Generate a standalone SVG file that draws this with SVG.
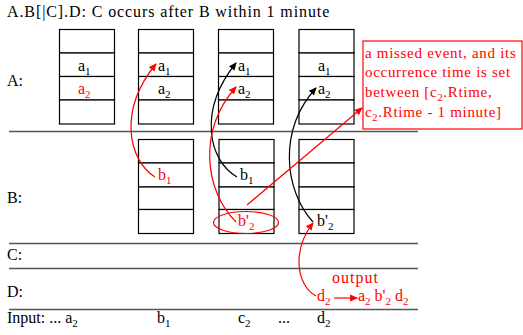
<svg xmlns="http://www.w3.org/2000/svg" width="523" height="335" viewBox="0 0 523 335">
<defs>
<marker id="ab" markerWidth="8" markerHeight="8" refX="7" refY="4" orient="auto" markerUnits="userSpaceOnUse"><path d="M0,0.5 L8,4 L0,7.5 Z" fill="#000"/></marker>
<marker id="ar" markerWidth="8" markerHeight="8" refX="7" refY="4" orient="auto" markerUnits="userSpaceOnUse"><path d="M0,0.5 L8,4 L0,7.5 Z" fill="#f00"/></marker>
</defs>
<style>
text{font-family:'Liberation Serif','DejaVu Serif','Times New Roman',serif;font-size:16px;fill:#000}
.r{fill:#f00}
.s{font-size:11px}
.cell{fill:#fff;stroke:#000;stroke-width:1.2}
.sep{stroke:#555;stroke-width:1.5}
.cb{fill:none;stroke:#000;stroke-width:1.2}
.cr{fill:none;stroke:#f00;stroke-width:1.2}
.bx{font-size:15px;fill:#f00;letter-spacing:0.7px}
</style>
<rect width="523" height="335" fill="#fff"/>
<text x="7" y="17" letter-spacing="0.9">A.B[|C].D: C occurs after B within 1 minute</text>
<g id="separators">
<line class="sep" x1="9" y1="131.5" x2="418" y2="131.5"/>
<line class="sep" x1="9" y1="243.5" x2="418" y2="243.5"/>
<line class="sep" x1="9" y1="268.5" x2="418" y2="268.5"/>
<line class="sep" x1="9" y1="309.5" x2="418" y2="309.5"/>
</g>
<g id="labels">
<text x="7" y="86">A:</text>
<text x="7" y="203">B:</text>
<text x="7" y="260">C:</text>
<text x="7" y="297">D:</text>
<text x="7" y="323">Input: ... a<tspan class="s" dy="4">2</tspan></text>
<text x="157" y="323">b<tspan class="s" dy="4">1</tspan></text>
<text x="238" y="323">c<tspan class="s" dy="4">2</tspan></text>
<text x="278" y="323">...</text>
<text x="317" y="323">d<tspan class="s" dy="4">2</tspan></text>
</g>
<g id="stackA1">
<rect class="cell" x="59.5" y="29.5" width="55" height="23.5"/>
<rect class="cell" x="59.5" y="53" width="55" height="23.5"/>
<rect class="cell" x="59.5" y="76.5" width="55" height="23.5"/>
<rect class="cell" x="59.5" y="100" width="55" height="24"/>
<text x="78" y="71">a<tspan class="s" dy="4">1</tspan></text>
<text x="78" y="94" class="r">a<tspan class="s" dy="4">2</tspan></text>
</g>
<g id="stackA2">
<rect class="cell" x="138.5" y="29.5" width="55" height="23.5"/>
<rect class="cell" x="138.5" y="53" width="55" height="23.5"/>
<rect class="cell" x="138.5" y="76.5" width="55" height="23.5"/>
<rect class="cell" x="138.5" y="100" width="55" height="24"/>
<text x="158" y="71">a<tspan class="s" dy="4">1</tspan></text>
<text x="158" y="94">a<tspan class="s" dy="4">2</tspan></text>
</g>
<g id="stackA3">
<rect class="cell" x="218.5" y="29.5" width="55" height="23.5"/>
<rect class="cell" x="218.5" y="53" width="55" height="23.5"/>
<rect class="cell" x="218.5" y="76.5" width="55" height="23.5"/>
<rect class="cell" x="218.5" y="100" width="55" height="24"/>
<text x="238" y="71">a<tspan class="s" dy="4">1</tspan></text>
<text x="238" y="94">a<tspan class="s" dy="4">2</tspan></text>
</g>
<g id="stackA4">
<rect class="cell" x="299" y="29.5" width="55" height="23.5"/>
<rect class="cell" x="299" y="53" width="55" height="23.5"/>
<rect class="cell" x="299" y="76.5" width="55" height="23.5"/>
<rect class="cell" x="299" y="100" width="55" height="24"/>
<text x="318" y="71">a<tspan class="s" dy="4">1</tspan></text>
<text x="318" y="94">a<tspan class="s" dy="4">2</tspan></text>
</g>
<g id="stackB2">
<rect class="cell" x="138.5" y="139.5" width="55" height="23.5"/>
<rect class="cell" x="138.5" y="163" width="55" height="24"/>
<rect class="cell" x="138.5" y="187" width="55" height="22.5"/>
<rect class="cell" x="138.5" y="209.5" width="55" height="24"/>
<text x="158" y="180" class="r">b<tspan class="s" dy="4">1</tspan></text>
</g>
<g id="stackB3">
<rect class="cell" x="219" y="139.5" width="55" height="23.5"/>
<rect class="cell" x="219" y="163" width="55" height="24"/>
<rect class="cell" x="219" y="187" width="55" height="22.5"/>
<rect class="cell" x="219" y="209.5" width="55" height="24"/>
<text x="240" y="180">b<tspan class="s" dy="4">1</tspan></text>
<text x="238" y="226" class="r">b'<tspan class="s" dy="4">2</tspan></text>
</g>
<g id="stackB4">
<rect class="cell" x="299" y="139.5" width="55" height="23.5"/>
<rect class="cell" x="299" y="163" width="55" height="24"/>
<rect class="cell" x="299" y="187" width="55" height="22.5"/>
<rect class="cell" x="299" y="209.5" width="55" height="24"/>
<text x="317" y="226">b'<tspan class="s" dy="4">2</tspan></text>
</g>
<g id="note">
<rect x="363" y="41" width="159" height="88" fill="#fff" stroke="#f00" stroke-width="1.2"/>
<text class="bx" x="365" y="58">a missed event, and its</text>
<text class="bx" x="365" y="77">occurrence time is set</text>
<text class="bx" x="365" y="97">between [c<tspan font-size="10.5px" dy="4">2</tspan><tspan dy="-4">.Rtime,</tspan></text>
<text class="bx" x="365" y="117">c<tspan font-size="10.5px" dy="4">2</tspan><tspan dy="-4">.Rtime - 1 minute]</tspan></text>
</g>
<g id="output">
<text x="332" y="283" class="r" letter-spacing="1">output</text>
<text x="317" y="301" class="r">d<tspan class="s" dy="4">2</tspan></text>
<text x="358" y="301" class="r">a<tspan class="s" dy="4">2</tspan><tspan dy="-4"> b'</tspan><tspan class="s" dy="4">2</tspan><tspan dy="-4"> d</tspan><tspan class="s" dy="4">2</tspan></text>
</g>
<g id="connectors">
<ellipse cx="246" cy="222.5" rx="32.5" ry="11" fill="none" stroke="#f00" stroke-width="1.2"/>
<path class="cr" d="M155,177 C128,160 118,110 156,64" marker-end="url(#ar)"/>
<path class="cb" d="M237,177 C208,160 198,110 236,63" marker-end="url(#ab)"/>
<path class="cr" d="M236,222 C204,190 198,130 236,87" marker-end="url(#ar)"/>
<path class="cb" d="M313,222 C284,190 278,130 316,88" marker-end="url(#ab)"/>
<path class="cr" d="M247,205 L362,108" marker-end="url(#ar)"/>
<path class="cr" d="M316,296 C296,285 292,250 313,223" marker-end="url(#ar)"/>
<path class="cr" d="M334,298 L357,298" marker-end="url(#ar)"/>
</g>
</svg>
